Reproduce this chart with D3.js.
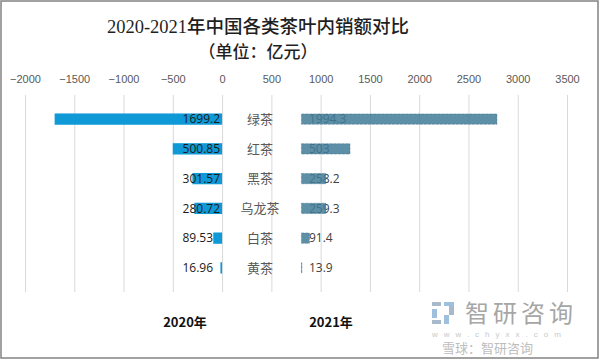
<!DOCTYPE html>
<html>
<head>
<meta charset="utf-8">
<script src="https://cdn.jsdelivr.net/npm/d3@7"></script>
<style>
  html, body { margin: 0; padding: 0; background: #fff; }
  svg { display: block; }
</style>
</head>
<body>
<svg id="chart" width="600" height="360"></svg>
<script>
// ---- data ----
const categories = ["绿茶", "红茶", "黑茶", "乌龙茶", "白茶", "黄茶"];
const values2020 = [1699.2, 500.85, 301.57, 280.72, 89.53, 16.96];
const values2021 = [1994.3, 503, 258.2, 259.3, 91.4, 13.9];
const tickValues = [-2000, -1500, -1000, -500, 0, 500, 1000, 1500, 2000, 2500, 3000, 3500];
const seriesNames = ["2020年", "2021年"];
const titleLines = ["2020-2021年中国各类茶叶内销额对比", "（单位：亿元）"];

// ---- layout ----
const W = 600, H = 360;
const plotTop = 95, plotBottom = 292;
const rightOffset = 800; // 2021 bars start after the category label column

const svg = d3.select("#chart");

// border
svg.append("rect")
  .attr("x", 1).attr("y", 1).attr("width", W - 3).attr("height", H - 3)
  .attr("fill", "#fff").attr("stroke", "#8a8a8a").attr("stroke-width", 1.6);

const x = d3.scaleLinear().domain([-2000, 3500]).range([25, 567]);
const y = d3.scaleBand().domain(categories).range([plotTop, plotBottom]).padding(0.62);

// title
svg.append("text")
  .attr("x", 258).attr("y", 33)
  .attr("text-anchor", "middle")
  .attr("font-family", "'Liberation Serif','Noto Sans CJK SC',serif")
  .attr("font-size", 18.5).attr("font-weight", 500).attr("fill", "#1f1f1f")
  .text(titleLines[0]);
svg.append("text")
  .attr("x", 258).attr("y", 58)
  .attr("text-anchor", "middle")
  .attr("font-family", "'Noto Sans CJK SC',sans-serif")
  .attr("font-size", 17).attr("font-weight", 500).attr("fill", "#1f1f1f")
  .text(titleLines[1]);

// gridlines
svg.append("g").selectAll("line").data(tickValues).join("line")
  .attr("x1", d => x(d) + 0.5).attr("x2", d => x(d) + 0.5)
  .attr("y1", plotTop).attr("y2", plotBottom)
  .attr("stroke", "#d9d9d9").attr("stroke-width", 1);

// top axis
const axis = svg.append("g")
  .attr("transform", `translate(0,${86})`)
  .call(d3.axisTop(x).tickValues(tickValues).tickSize(0).tickPadding(3).tickFormat(d3.format("d")));
axis.select(".domain").remove();
axis.selectAll("text")
  .attr("font-family", "'Liberation Sans Narrow','Liberation Sans',Arial,sans-serif")
  .attr("font-size", 11).attr("fill", "#595959");

// 2020 bars (left)
svg.append("g").selectAll("rect").data(values2020).join("rect")
  .attr("x", d => x(-d))
  .attr("y", (d, i) => y(categories[i]))
  .attr("width", d => x(0) - x(-d))
  .attr("height", y.bandwidth())
  .attr("fill", "#0f9ad7");

svg.append("g").selectAll("text").data(values2020).join("text")
  .attr("x", d => d >= 100 ? x(0) - 2 : x(0) - 9)
  .attr("y", (d, i) => y(categories[i]) + y.bandwidth() / 2)
  .attr("dy", "0.36em")
  .attr("text-anchor", "end")
  .attr("font-family", "'Open Sans','Liberation Sans',sans-serif")
  .attr("font-size", 12).attr("fill", "#1a1a1a")
  .text(d => d);

// 2021 labels (drawn under semi-transparent bars)
svg.append("g").selectAll("text").data(values2021).join("text")
  .attr("x", x(rightOffset) + 8)
  .attr("y", (d, i) => y(categories[i]) + y.bandwidth() / 2)
  .attr("dy", "0.36em")
  .attr("text-anchor", "start")
  .attr("font-family", "'Open Sans','Liberation Sans',sans-serif")
  .attr("font-size", 12).attr("fill", "#404040")
  .text(d => d);

// 2021 bars (right)
svg.append("g").selectAll("rect").data(values2021).join("rect")
  .attr("x", x(rightOffset) + 0.5)
  .attr("y", (d, i) => y(categories[i]) + 0.5)
  .attr("width", d => Math.max(0.5, x(rightOffset + d) - x(rightOffset) - 1))
  .attr("height", y.bandwidth() - 1)
  .attr("fill", "#417b98").attr("fill-opacity", 0.85)
  .attr("stroke", "#3a6d87").attr("stroke-width", 0.6).attr("stroke-opacity", 0.7)
  .attr("stroke-dasharray", "3,1");

// category labels
svg.append("g").selectAll("text").data(categories).join("text")
  .attr("x", 260)
  .attr("y", d => y(d) + y.bandwidth() / 2)
  .attr("dy", "0.36em")
  .attr("text-anchor", "middle")
  .attr("font-family", "'Noto Sans CJK SC',sans-serif")
  .attr("font-size", 13).attr("fill", "#595959")
  .text(d => d);

// series titles at bottom
svg.append("g").selectAll("text").data(seriesNames).join("text")
  .attr("x", (d, i) => i === 0 ? 185 : 331)
  .attr("y", 327)
  .attr("text-anchor", "middle")
  .attr("font-family", "'Noto Sans CJK SC',sans-serif")
  .attr("font-size", 13).attr("font-weight", "bold").attr("fill", "#111")
  .text(d => d);

// watermark
const wm = svg.append("g");
wm.append("rect").attr("x", 432).attr("y", 302).attr("width", 9).attr("height", 4).attr("fill", "#a9b9cc");
wm.append("rect").attr("x", 432).attr("y", 309).attr("width", 5).attr("height", 9).attr("fill", "#9fc0dd");
wm.append("rect").attr("x", 432).attr("y", 320).attr("width", 9).attr("height", 4).attr("fill", "#a9b9cc");
wm.append("rect").attr("x", 444).attr("y", 302).attr("width", 10).attr("height", 4).attr("fill", "#9fc0dd");
wm.append("rect").attr("x", 449).attr("y", 306).attr("width", 5).attr("height", 9).attr("fill", "#a9b9cc");
wm.append("rect").attr("x", 444).attr("y", 315).attr("width", 5).attr("height", 9).attr("fill", "#9fc0dd");
wm.append("text").attr("x", 465).attr("y", 322)
  .attr("font-family", "'Noto Sans CJK SC',sans-serif")
  .attr("font-size", 24).attr("fill", "#a6a6a6").attr("letter-spacing", 4)
  .text("智研咨询");
wm.append("text").attr("x", 432).attr("y", 337)
  .attr("font-family", "'Liberation Sans',sans-serif")
  .attr("font-size", 8).attr("fill", "#c8c8c8").attr("letter-spacing", 6)
  .text("www.chyxx.com");
wm.append("text").attr("x", 442).attr("y", 353)
  .attr("font-family", "'Noto Sans CJK SC',sans-serif")
  .attr("font-size", 13).attr("fill", "#bdbdbd")
  .text("雪球：智研咨询");
</script>
</body>
</html>
